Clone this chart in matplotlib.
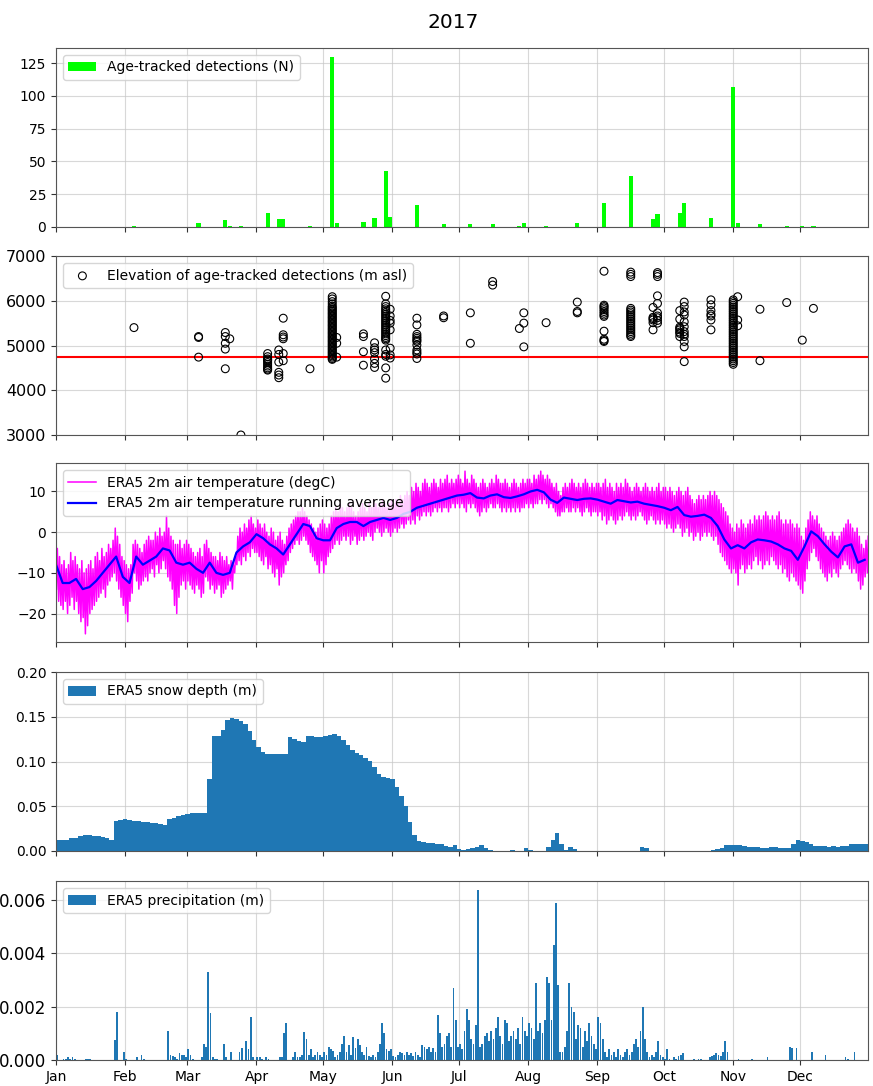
import numpy as np
import matplotlib
matplotlib.use("Agg")
import matplotlib.pyplot as plt
import matplotlib.dates as mdates

plt.rcParams['font.size'] = 10

# day 0 = 2017-01-01
t0 = mdates.date2num(np.datetime64('2017-01-01'))

# age-tracked detections per day
det_day = [35, 64, 76, 78, 83, 95, 100, 102, 114, 124, 126, 138, 143, 148, 150, 162,
           174, 186, 196, 208, 210, 220, 234, 246, 258, 268, 270, 280, 282, 294, 304,
           306, 316, 328, 335, 340]
det_n = [1, 3, 5, 1, 1, 11, 6, 6, 1, 130, 3, 4, 7, 43, 8, 17,
         2, 2, 2, 1, 3, 1, 3, 18, 39, 6, 10, 11, 18, 7, 107,
         3, 2, 1, 1, 1]

# elevation of each detection (m asl), grouped by day
elev_groups = {
    35: [5400],
    64: [5200, 5180, 4740],
    76: [5290, 5200, 5050, 4920, 4480],
    78: [5150],
    83: [3000],
    95: [4820, 4750, 4700, 4660, 4620, 4580, 4540, 4500, 4470, 4450, 4680],
    100: [4900, 4630, 4400, 4340, 4280, 4800],
    102: [5610, 5240, 5190, 5150, 4820, 4660],
    114: [4480],
    124: [6090, 6040, 5980, 5930, 5880, 5850, 5820, 5790, 5760, 5730, 5700, 5670,
          5640, 5610, 5580, 5550, 5520, 5490, 5460, 5430, 5400, 5370, 5340, 5310,
          5280, 5250, 5220, 5190, 5160, 5130, 5100, 5070, 5040, 5010, 4980, 4950,
          4920, 4890, 4860, 4830, 4800, 4770, 4740, 4710, 4690],
    126: [5180, 5050, 4740],
    138: [5260, 5200, 4860, 4560],
    143: [5060, 4950, 4840, 4700, 4600, 4510, 4900],
    148: [6100, 5930, 5870, 5820, 5780, 5740, 5700, 5660, 5620, 5580, 5540, 5500,
          5460, 5420, 5380, 5340, 5300, 5260, 5220, 5180, 5150, 5120, 4900, 4800,
          4760, 4500, 4270],
    150: [5810, 5660, 5500, 5350, 4940, 4790, 4720, 5560],
    162: [5610, 5460, 5250, 5160, 5090, 5010, 4900, 4810, 4710, 5120, 5200, 4850],
    174: [5660, 5620],
    186: [5730, 5050],
    196: [6430, 6350],
    208: [5380],
    210: [5730, 5500, 4970],
    220: [5510],
    234: [5970, 5760, 5730],
    246: [6660, 5900, 5870, 5840, 5800, 5760, 5720, 5680, 5650, 5320, 5140, 5110, 5090],
    258: [6640, 6590, 6540, 5830, 5790, 5750, 5710, 5670, 5630, 5590, 5550, 5510,
          5470, 5430, 5390, 5350, 5310, 5270, 5230, 5200],
    268: [5850, 5630, 5570, 5510, 5350, 5600],
    270: [6630, 6590, 6540, 6110, 5940, 5730, 5660, 5560, 5500, 5620],
    280: [5780, 5590, 5410, 5350, 5270, 5200, 5300, 5380],
    282: [5970, 5870, 5680, 5530, 5420, 5310, 5200, 5090, 4970, 4640, 5750, 5250],
    294: [6020, 5910, 5780, 5660, 5570, 5350, 5700],
    304: [6020, 5980, 5940, 5900, 5860, 5820, 5780, 5740, 5700, 5660, 5620, 5580,
          5540, 5500, 5460, 5420, 5380, 5340, 5300, 5260, 5220, 5180, 5140, 5100,
          5060, 5020, 4980, 4940, 4900, 4860, 4820, 4780, 4740, 4700, 4660, 4620, 4580],
    306: [6090, 5570, 5440],
    316: [5810, 4660],
    328: [5960],
    335: [5120],
    340: [5830],
}
snowline = 4750

# ERA5 2m air temperature, daily low / high (degC), month by month
t_low = [
    -14, -17, -18, -19, -17, -20, -18, -16, -19, -17, -20, -22, -21, -25, -23, -20,
    -19, -18, -17, -16, -15, -14, -16, -13, -12, -11, -10, -12, -14, -16, -18,
    -20, -22, -17, -15, -10, -12, -14, -13, -12, -11, -12, -10, -9, -11, -8, -10,
    -9, -7, -9, -11, -12, -14, -18, -20, -16, -13, -12, -14,
    -12, -13, -14, -15, -13, -14, -16, -15, -11, -12, -14, -13, -15, -14, -13, -16,
    -15, -14, -13, -12, -14, -10, -8, -7, -8, -6, -7, -5, -6, -4, -5,
    -5, -6, -7, -8, -6, -9, -8, -10, -11, -9, -13, -11, -10, -8, -7, -5,
    -4, -3, -2, -3, -2, -1, -2, -3, -5, -6, -7, -8, -10, -7,
    -10, -8, -6, -5, -4, -3, -2, -3, -2, -1, -2, -1, -3, -2, -1, -3,
    -2, -1, -2, -1, 0, -1, -2, 0, 1, 0, -1, 0, 1, 0, -1,
    0, 1, 0, 1, 2, 1, 2, 3, 2, 3, 2, 4, 3, 4, 5, 4, 5, 4, 5, 6, 5, 6, 5, 6, 6, 5, 6, 7, 6, 7,
    6, 7, 6, 5, 7, 6, 7, 6, 5, 4, 5, 6, 5, 6, 7, 6, 6, 7, 6, 5, 6, 5, 6, 5, 6, 5, 6, 5, 6, 6, 7,
    6, 7, 6, 7, 7, 8, 7, 8, 7, 6, 7, 6, 5, 4, 4, 5, 5, 6, 5, 5, 6, 5, 6, 5, 4, 5, 6, 5, 4, 5, 5,
    4, 5, 3, 4, 2, 3, 4, 3, 2, 3, 4, 3, 4, 5, 4, 3, 4, 3, 4, 5, 4, 3, 2, 3, 4, 3, 2, 3, 2, 3,
    2, 1, 2, 1, 0, 1, 2, 1, -1, 0, 1, -1, 0, -2, -1, 0, -2, -1, 0, -1, 0, -1, -2, -1,
    -3, -5, -6, -7, -8, -9, -10,
    -9, -10, -13, -9, -8, -10, -9, -8, -9, -7, -6, -8, -7, -9, -8, -7, -8, -6, -7, -8,
    -9, -8, -10, -9, -11, -12, -10, -11, -12, -13,
    -14, -15, -12, -9, -7, -5, -4, -6, -7, -9, -10, -11, -12, -10, -11, -9, -10, -11,
    -9, -8, -7, -8, -9, -10, -9, -10, -12, -14, -13, -11, -10,
]
t_high = [
    -4, -6, -8, -7, -9, -8, -5, -7, -6, -8, -9, -7, -10, -9, -8, -7, -9, -6, -5, -7,
    -4, -6, -5, -3, -4, -2, 1, -1, -3, -6, -7,
    -8, -9, -8, -3, -2, -3, -4, -5, -3, -2, -1, -2, -2, 0, -1, 1, -1, 0, 4, 1,
    -1, -2, -3, -3, -2, -4, -3, -2,
    -3, -4, -5, -6, -5, -4, -6, -3, -2, -4, -5, -6, -6, -7, -5, -6, -7, -6, -8, -7,
    -8, -6, -1, 1, 0, 2, 1, 3, 4, 2, 1,
    3, 2, 1, 2, 0, -1, 1, 0, -2, -1, 0, -2, -3, -1, 1, 2, 3, 4, 5, 5, 6, 5, 4, 3, 2, 1, 0, 1, 2, 3,
    2, 1, 2, 4, 5, 6, 5, 7, 6, 5, 6, 7, 6, 5, 4, 5, 6, 7, 6, 5, 7, 6, 8, 7, 6, 7, 8, 7, 6, 7, 8,
    7, 8, 7, 9, 8, 9, 10, 9, 11, 10, 12, 11, 10, 12, 13, 12, 11, 12, 13, 12,
    11, 13, 12, 13, 14, 12, 13, 12, 13, 14,
    13, 12, 15, 13, 12, 14, 13, 12, 11, 12, 13, 12, 11, 12, 13, 12, 14, 13, 12, 12,
    13, 12, 11, 12, 13, 12, 11, 12, 13, 12, 13,
    13, 12, 14, 13, 14, 15, 14, 13, 14, 13, 12, 11, 12, 10, 9, 11, 12, 11, 12, 13,
    12, 11, 12, 11, 12, 13, 12, 11, 12, 11, 12,
    12, 11, 12, 13, 11, 12, 11, 10, 12, 11, 12, 11, 13, 12, 11, 10, 11, 12, 11, 10,
    11, 12, 11, 10, 11, 10, 11, 12, 10, 11,
    11, 10, 11, 10, 9, 10, 11, 10, 9, 10, 11, 9, 8, 7, 8, 9, 8, 9, 8, 9,
    10, 9, 10, 9, 8, 7, 6, 5, 4, 2, 1,
    0, 2, 1, 3, 2, 1, 2, 3, 2, 4, 3, 4, 3, 4, 5, 4, 3, 4, 3, 4, 5, 3, 2, 3, 2, 3, 2, 1, 2, 1,
    -1, -2, 1, 3, 5, 4, 3, 4, 2, 1, 0, -1, -2, -1, 0, -1, -2, -1, 0, 1,
    2, 3, 2, 1, 0, 1, -1, -3, -4, -2, -1,
]

# running average, every third day from day 0
t_avg = [
    -8, -12.5, -12.5, -11.5, -14, -13.5, -12, -10, -8, -6,
    -11, -12.5, -6, -8, -7, -6, -4, -4.5, -7.5, -8,
    -7.5, -9, -10, -7.5, -10, -10.5, -10, -5, -3.5, -2.5,
    -0.5, -1.5, -3, -4, -5.5, -3, -0.5, 2, 1.5, -1.5,
    -2, -2, 1, 2, 2.5, 2.5, 1.5, 2.5, 3, 3.5,
    3, 3.5, 4.5, 5, 6, 6.5, 7, 7.5, 8, 8.5,
    9, 9.2, 9.6, 8.5, 8.3, 9, 9.3, 8.6, 8.4, 8.8,
    9.3, 10, 10.4, 9.8, 8, 7.2, 8.5, 8.2, 7.9, 8.2,
    8.3, 8, 7.5, 7, 7.9, 7.6, 7.3, 7.5, 7, 6.7,
    6.4, 6, 5.4, 6.2, 4.2, 3.8, 4, 4.3, 3.5, 1.5,
    -1.8, -4, -3.2, -4, -2.5, -1.8, -2, -2.3, -3, -4,
    -4.6, -6.8, -3.5, 0.2, -1, -3, -4.8, -6.2, -3.5, -3,
    -7.5, -6.8,
]

# ERA5 snow depth (m), every second day from day 0
snow = [
    .012, .012, .012, .014, .015, .017, .018, .018, .017, .017, .016, .014, .012,
    .034, .035, .036, .035, .034, .033, .032, .032, .031, .031, .030, .029, .036,
    .037, .039, .040, .041, .042, .043, .042, .042,
    .080, .128, .129, .135, .146, .149, .148, .145, .142, .134, .124, .116, .111,
    .108, .108, .108, .108, .108,
    .127, .125, .123, .122, .128, .128, .127, .127, .128, .130, .131, .128, .124,
    .118, .113, .109, .107, .104, .101, .094, .086, .083, .082, .080, .072, .062,
    .050, .032, .018,
    .011, .010, .009, .009, .008, .0075, .006, .005, .007, .002, .001, .002, .003,
    .004, .007, .003, .001, 0, 0, 0, .0005, .001, 0, 0, .003, .001, 0, 0, 0, .004,
    .012, .020, .008, .001, .0045, .002, 0,
    0, 0, 0, 0, 0, 0, 0, 0, 0, 0, 0, 0, 0, .005, .003, 0, 0, 0, 0, 0, 0, 0, 0,
    .0005, 0, 0, .0005, 0, 0, .0015,
    .002, .003, .007, .007, .0068, .0064, .006, .005, .0045, .004, .0038, .003,
    .004, .004, .0038, .0035, .003, .008, .012, .0115, .0098, .008, .006, .0056,
    .0056, .005, .0055, .005, .0052, .006, .008, .008, .008, .0078, .008,
]

# ERA5 precipitation per day (mm), month by month
precip_mm = [
    0.2, 0, 0, 0.05, 0.05, 0.1, 0.05, 0.1, 0.05, 0, 0, 0, 0, 0.05, 0.05, 0.05,
    0, 0, 0, 0, 0, 0, 0, 0, 0, 0, 0.75, 1.8, 0, 0, 0.3,
    0.05, 0, 0, 0, 0, 0.1, 0, 0.2, 0.05, 0, 0, 0, 0, 0, 0, 0, 0, 0, 0,
    1.1, 0.2, 0.15, 0.1, 0.05, 0.25, 0.2, 0.2, 0.1,
    0.4, 0.2, 0.05, 0, 0, 0, 0.1, 0.6, 0.5, 3.3, 1.75, 0.1, 0.05, 0.05, 0, 0,
    0.6, 0.1, 0, 0.3, 0, 0, 0, 0.3, 0.45, 0, 0.7, 0.4, 1.6, 0.1, 0,
    0.1, 0.1, 0.05, 0, 0.1, 0.05, 0, 0, 0, 0, 0.1, 0.1, 1.0, 1.4, 0, 0, 0.1, 0.3,
    0.1, 0.1, 0.2, 1.05, 0.8, 0.2, 0.4, 0.1, 0.2, 0.3, 0.2, 0.1,
    0.3, 0.2, 0.5, 0.4, 0.35, 0.1, 0.2, 0.3, 0.6, 0.9, 0.3, 0.55, 0.2, 0.85, 0.45,
    0.8, 0.55, 0.3, 0.2, 0.5, 0.15, 0.1, 0.2, 0.1, 0.3, 0.6, 1.4, 1.0, 0.4, 0.35, 0.4,
    0.15, 0.1, 0.2, 0.3, 0.25, 0.2, 0.3, 0.2, 0.25, 0.15, 0.3, 0.2, 0.1, 0.55, 0.5,
    0.4, 0.5, 0.3, 0.45, 0.3, 1.7, 1.0, 0.5, 0.6, 0.9, 1.0, 0.5, 2.7, 1.5, 0.5,
    0.6, 0.4, 1.1, 1.9, 1.5, 0.8, 0.6, 1.3, 6.4, 0.5, 0.6, 0.9, 1.0, 0.7, 1.1, 0.8,
    1.2, 1.6, 0.9, 0.6, 1.5, 1.4, 0.7, 0.9, 1.1, 0.8, 1.2, 0.6, 1.6, 1.1, 0.9,
    1.4, 1.2, 0.8, 2.9, 1.1, 1.4, 1.0, 1.5, 3.1, 2.9, 1.5, 4.3, 5.9, 2.8, 0.3, 0.3,
    0.5, 1.1, 2.9, 2.0, 1.8, 0.8, 1.3, 1.2, 0.5, 1.1, 0.7, 1.4, 0.9, 0.6, 0.4,
    1.6, 1.4, 0.8, 0.3, 0.1, 0.4, 0.2, 0.3, 0.1, 0.4, 0.2, 0.1, 0.3, 0.4, 0.2,
    0.3, 0.6, 0.8, 0.5, 1.1, 2.0, 0.8, 0.3, 0.1, 0.2, 0.1, 0.3, 0.7, 0.2, 0.1,
    0.05, 0.4, 0.05, 0, 0.1, 0.05, 0.15, 0.2, 0.25, 0, 0, 0, 0, 0.05, 0, 0.05,
    0.05, 0, 0, 0, 0.1, 0.15, 0.2, 0.25, 0.2, 0.15, 0.3, 0.7, 0.3, 0, 0,
    0, 0, 0.05, 0, 0, 0, 0, 0, 0.05, 0, 0, 0, 0, 0, 0, 0.1, 0, 0, 0, 0,
    0, 0, 0, 0, 0, 0.5, 0.45, 0, 0.45, 0,
    0, 0, 0, 0, 0, 0.3, 0, 0, 0, 0, 0, 0.2, 0, 0, 0, 0, 0, 0, 0, 0,
    0.1, 0.05, 0, 0, 0.3, 0, 0, 0, 0, 0, 0,
]

assert len(t_low) == len(t_high) == len(precip_mm) == 365
assert len(snow) == 183 and len(t_avg) == 122

# x positions as matplotlib date numbers
days = np.arange(365)
x_det = t0 + np.array(det_day)
x_elev = t0 + np.concatenate([[d] * len(v) for d, v in elev_groups.items()])
elev = np.concatenate(list(elev_groups.values()))
# low near dawn, high in the afternoon
x_temp = t0 + np.column_stack([days + 0.2, days + 0.6]).ravel()
temp = np.column_stack([t_low, t_high]).ravel()
x_avg = t0 + np.arange(0, 365, 3)
x_snow = t0 + np.arange(0, 365, 2)
x_prec = t0 + days
precip = np.array(precip_mm) / 1000.0

fig = plt.figure(figsize=(8.73, 10.86), dpi=100)
left, width, height = 56 / 873, 812 / 873, 179 / 1086
bottoms = [227, 435, 642, 851, 1060]
axes = []
for b in bottoms:
    ax = fig.add_axes([left, (1086 - b) / 1086, width, height],
                      sharex=axes[0] if axes else None)
    axes.append(ax)
ax1, ax2, ax3, ax4, ax5 = axes

ax1.bar(x_det, det_n, width=1.9, color='#00ff00', label='Age-tracked detections (N)')
ax1.set_yticks([0, 25, 50, 75, 100, 125])

ax2.scatter(x_elev, elev, s=32, facecolors='none', edgecolors='black', linewidths=0.8,
            label='Elevation of age-tracked detections (m asl)', zorder=3)
ax2.axhline(snowline, color='red', lw=1.5, zorder=2)
ax2.set_ylim(3000, 7000)
ax2.tick_params(axis='y', labelsize=11.5)

ax3.plot(x_temp, temp, color='magenta', lw=1.1, label='ERA5 2m air temperature (degC)')
ax3.plot(x_avg, t_avg, color='blue', lw=1.6, label='ERA5 2m air temperature running average')
ax3.set_yticks([-20, -10, 0, 10])

ax4.bar(x_snow, snow, width=2, align='edge', color='#1f77b4', lw=0,
        label='ERA5 snow depth (m)')
ax4.set_ylim(0, 0.2)
ax4.set_yticks([0, 0.05, 0.1, 0.15, 0.2])
ax4.yaxis.set_major_formatter(plt.FormatStrFormatter('%.2f'))

ax5.bar(x_prec, precip, width=0.8, align='edge', color='#1f77b4', lw=0,
        label='ERA5 precipitation (m)')
ax5.set_yticks([0, 0.002, 0.004, 0.006])
ax5.yaxis.set_major_formatter(plt.FormatStrFormatter('%.3f'))
ax5.tick_params(axis='y', labelsize=12)

ax5.set_xlim(t0, t0 + 364.5)
ax5.xaxis.set_major_locator(mdates.MonthLocator())
ax5.xaxis.set_major_formatter(mdates.DateFormatter('%b'))

for ax in axes:
    ax.grid(True, color='#c8c8c8', lw=0.8, alpha=0.7)
    ax.set_axisbelow(True)
    ax.legend(loc='upper left')
    for s in ax.spines.values():
        s.set_color('#555555')
    ax.tick_params(color='#333333')
    if ax is not ax5:
        ax.tick_params(labelbottom=False)

fig.text(453 / 873, 1 - 22 / 1086, '2017', ha='center', va='center', fontsize=14.5)

fig.savefig('out.png', dpi=100)
